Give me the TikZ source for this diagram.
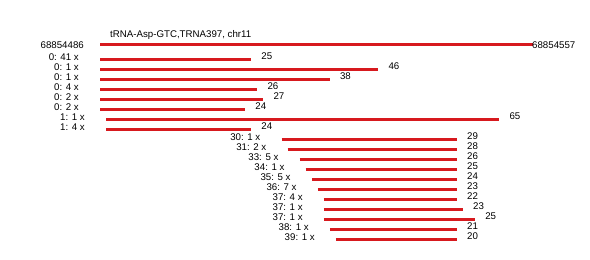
\documentclass[tikz,border=0pt]{standalone}
\usepackage{fontspec}
\setmainfont{Liberation Sans}
\definecolor{readred}{RGB}{215,25,30}
\begin{document}
\begin{tikzpicture}[x=1pt,y=-1pt,
  readline/.style={draw=readred, line width=2.7pt},
  lab/.style={font=\fontsize{9.7}{11}\selectfont, inner sep=0pt}]
\useasboundingbox (0,0) rectangle (590,260);
\fill[white] (0,0) rectangle (590,260);
\node[lab, anchor=west] (title) at (110,34.5) {tRNA-Asp-GTC,TRNA397, chr11};
\coordinate (ms) at (100,44.7);
\coordinate (me) at (533,44.7);
\draw[readline] (ms) -- (me);
\node[lab, anchor=east] (ml) at ([xshift=-16pt]ms) {68854486};
\node[lab, anchor=west] (mr) at ([xshift=-1pt]me) {68854557};
\foreach \i/\ro/\rl/\rc in {1/0/25/41, 2/0/46/1, 3/0/38/1, 4/0/26/4, 5/0/27/2, 6/0/24/2,
  7/1/65/1, 8/1/24/4, 9/30/29/1, 10/31/28/2, 11/33/26/5, 12/34/25/1, 13/35/24/5,
  14/36/23/7, 15/37/22/4, 16/37/23/1, 17/37/25/1, 18/38/21/1, 19/39/20/1} {
  \pgfmathsetmacro\ys{59.3+10*(\i-1)}
  \coordinate (s\i) at ({100+6.05*\ro},\ys);
  \coordinate (e\i) at ({100+6.05*(\ro+\rl)},\ys);
  \draw[readline] (s\i) -- (e\i);
  \node[lab, anchor=east] (l\i) at ([xshift=-21pt,yshift=2pt]s\i) {\ro: \rc\ x};
  \node[lab, anchor=west] (n\i) at ([xshift=10pt,yshift=3.5pt]e\i) {\rl};
}
\end{tikzpicture}
\end{document}
